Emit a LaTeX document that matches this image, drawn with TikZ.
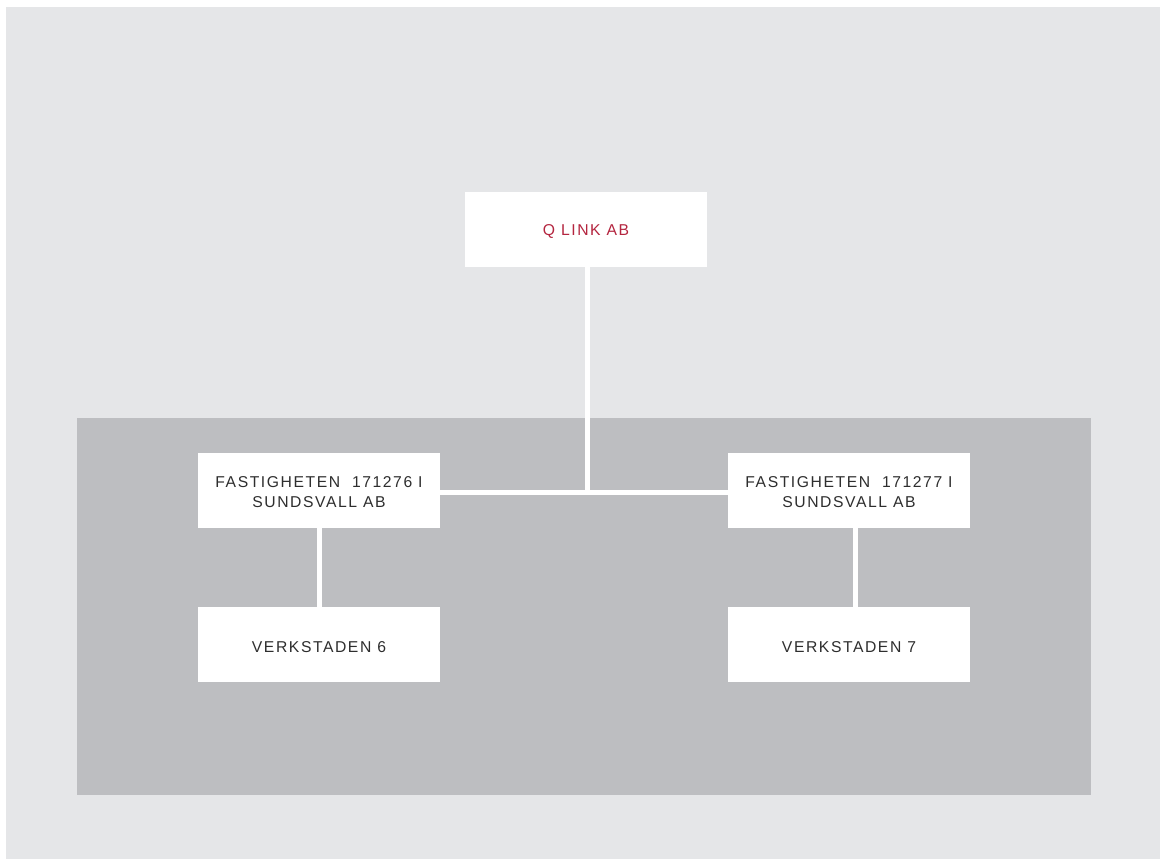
\documentclass[tikz,border=0pt]{standalone}
\usepackage{fontspec}
\setmainfont{Liberation Sans}[LetterSpace=10]
\definecolor{bglight}{HTML}{E5E6E8}
\definecolor{bgdark}{HTML}{BDBEC1}
\definecolor{qred}{HTML}{B4253F}
\definecolor{txt}{HTML}{2E2E2E}
\tikzset{
  box/.style={fill=white, draw=none, minimum width=242pt, minimum height=75pt, inner sep=0pt},
  lbl/.style={inner sep=0pt, align=center, font=\fontsize{15.7pt}{20.5pt}\selectfont, text=txt},
  link/.style={draw=white, line width=5pt}
}
\begin{document}
\begin{tikzpicture}[x=1pt,y=-1pt]
\useasboundingbox (0,0) rectangle (1160,859);
\fill[white] (0,0) rectangle (1160,859);
\fill[bglight] (6,7) rectangle (1160,859);
\fill[bgdark] (77,418) rectangle (1091,795);
\node[box] (top) at (586,229.5) {};
\node[box] (L) at (319,490.5) {};
\node[box] (R) at (849,490.5) {};
\node[box] (BL) at (319,644.5) {};
\node[box] (BR) at (849,644.5) {};
\node[lbl, text=qred] (topt) at ([yshift=-2.5pt]top.center) {Q LINK AB};
\node[lbl] (Lt) at ([yshift=-1.5pt]L.center) {FASTIGHETEN\ \ 171276 I\\SUNDSVALL AB};
\node[lbl] (Rt) at ([yshift=-1.5pt]R.center) {FASTIGHETEN\ \ 171277 I\\SUNDSVALL AB};
\node[lbl] (BLt) at ([yshift=-2.5pt]BL.center) {VERKSTADEN 6};
\node[lbl] (BRt) at ([yshift=-2.5pt]BR.center) {VERKSTADEN 7};
\coordinate (J) at (587,492.5);
\draw[link] (top.south -| J) -- (J);
\draw[link] (L.east |- J) -- (R.west |- J);
\draw[link] ([xshift=0.5pt]L.south) -- ([xshift=0.5pt]BL.north);
\draw[link] ([xshift=6.5pt]R.south) -- ([xshift=6.5pt]BR.north);
\end{tikzpicture}
\end{document}
